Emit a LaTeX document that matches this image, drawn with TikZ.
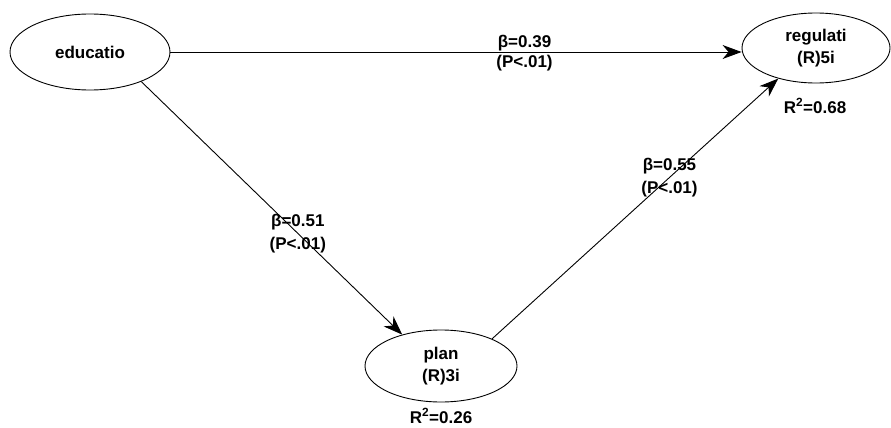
\documentclass[tikz,border=0pt]{standalone}
\usepackage{fontspec}
\setmainfont{Liberation Sans}
\usetikzlibrary{shapes.geometric,arrows.meta}
\begin{document}
\begin{tikzpicture}[x=1pt,y=-1pt,
  latent/.style={draw=black,line width=0.9pt,ellipse,minimum width=#1,inner sep=0pt},
  latent/.default=158pt,
  lbl/.style={font=\fontsize{17}{22.5}\selectfont\bfseries,align=center,inner sep=1pt},
  path/.style={draw=black,line width=0.9pt,-{Stealth[length=19pt,width=14pt,inset=6pt]}}]
\useasboundingbox (0,0) rectangle (891,428);
\node[latent=160pt,minimum height=76pt,lbl] (edu) at (90,52) {educatio};
\node[latent=148pt,minimum height=70pt,lbl] (reg) at (816,48) {regulati\\(R)5i};
\node[latent=152pt,minimum height=72pt,lbl] (plan) at (441,366) {plan\\(R)3i};
\node[lbl] (r2reg) at (815,106) {R\textsuperscript{2}=0.68};
\node[lbl] (r2plan) at (441,416) {R\textsuperscript{2}=0.26};
\draw[path] (edu.east) -- (edu.east -| reg.west)
  node[lbl,pos=0.62,above=0pt] (b1) {β=0.39}
  node[lbl,pos=0.62,below=2pt] (p1) {(P<.01)};
\draw[path] (edu.-30) -- (plan.141)
  node[lbl,pos=0.6] (l2) {β=0.51\\(P<.01)};
\draw[path] (plan.28) -- (reg.219)
  node[lbl,pos=0.62] (l3) {β=0.55\\(P<.01)};
\end{tikzpicture}
\end{document}
